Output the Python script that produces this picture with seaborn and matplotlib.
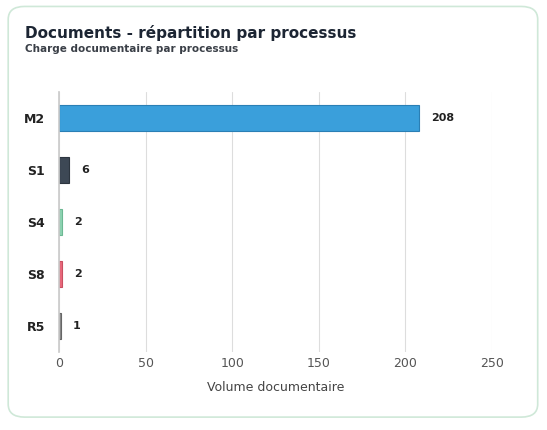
import matplotlib
matplotlib.use("Agg")
import matplotlib.pyplot as plt
import seaborn as sns
import pandas as pd
from matplotlib.patches import FancyBboxPatch

categories = ["M2", "S1", "S4", "S8", "R5"]
values = [208, 6, 2, 2, 1]
colors = ["#3a9fdb", "#3d4855", "#8ed3b2", "#e9697c", "#8a8a8a"]
edges = ["#2a7fb5", "#2c353f", "#6cb893", "#c94f61", "#666666"]
xticks = [0, 50, 100, 150, 200, 250]

sns.set_theme(style="white")
plt.rcParams['font.family'] = ['DejaVu Sans']

fig = plt.figure(figsize=(5.47, 4.30), dpi=100)
fig.patch.set_facecolor("white")
card = FancyBboxPatch((0.015, 0.03), 0.968, 0.955, boxstyle="round,pad=0,rounding_size=0.03",
                      transform=fig.transFigure, facecolor="white", edgecolor="#cfe8d8",
                      linewidth=1.2, zorder=-10)
fig.patches.append(card)

ax = fig.add_axes([59/547, 1-352/430, (492-59)/547, (352-92)/430])
ax.set_facecolor("none")
df = pd.DataFrame({"cat": categories, "val": values})
sns.barplot(data=df, x="val", y="cat", hue="cat", palette=colors, legend=False, ax=ax, width=0.5, saturation=1)
for p, e in zip(ax.patches, edges):
    p.set_edgecolor(e); p.set_linewidth(0.8)
for i, v in enumerate(values):
    ax.text(v + 7, i, str(v), va="center", ha="left", fontsize=8, fontweight="bold", color="#222222")
ax.set_xlim(0, 250)
ax.set_xticks(xticks)
ax.grid(axis="x", color="#dddddd", linewidth=0.8)
ax.set_axisbelow(True)
for s in ["top", "right", "bottom"]:
    ax.spines[s].set_visible(False)
ax.spines["left"].set_color("#cccccc")
ax.tick_params(axis="x", labelsize=9, colors="#555555", length=0)
ax.tick_params(axis="y", labelsize=9, length=0, pad=10)
for t in ax.get_yticklabels():
    t.set_fontweight("bold"); t.set_color("#222222")
ax.set_xlabel("Volume documentaire", fontsize=9, color="#444444", labelpad=8)
ax.set_ylabel("")

fig.text(25/547, 1-33/430, "Documents - répartition par processus", fontsize=11, fontweight="bold", color="#1c2533", va="center")
fig.text(25/547, 1-49/430, "Charge documentaire par processus", fontsize=7.5, fontweight="bold", color="#3a3f47", va="center")

fig.savefig("out.png", dpi=100)
